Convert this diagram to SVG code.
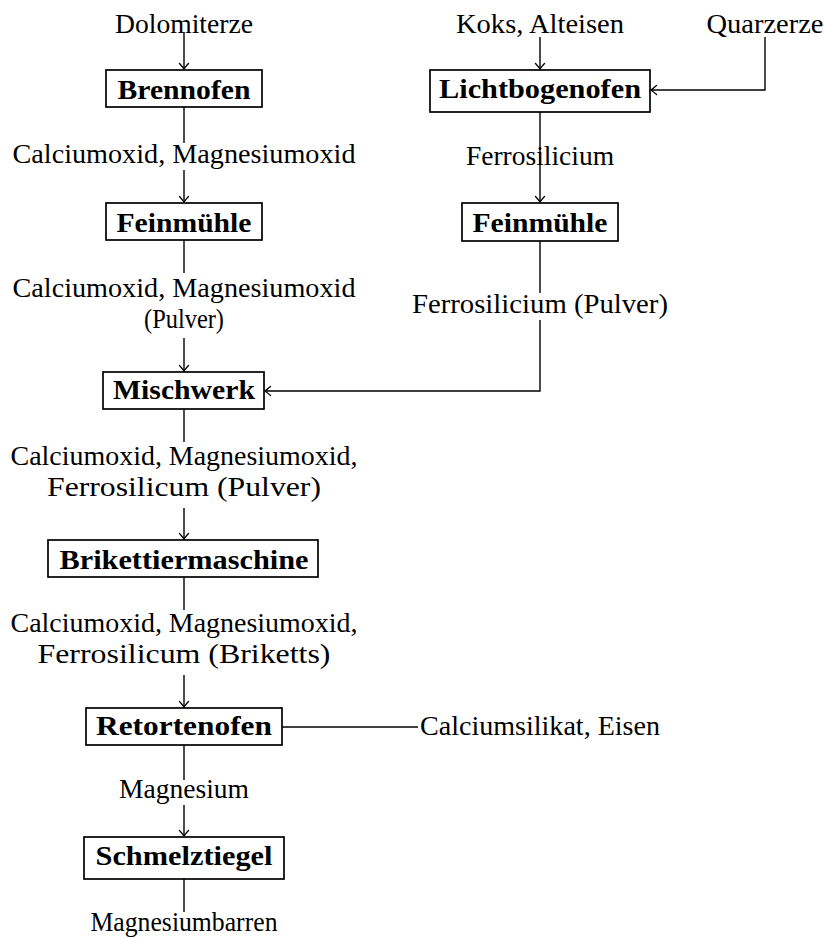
<svg xmlns="http://www.w3.org/2000/svg" width="824" height="938" viewBox="0 0 824 938">
<defs>
<style>
text{font-family:"Liberation Serif","Times New Roman",serif;font-size:27px;fill:#000;text-anchor:middle}
.b{font-weight:bold}
rect{fill:#fff;stroke:#000;stroke-width:1.7}
.c line,.c path{stroke:#000;stroke-width:1.4;fill:none}
</style>
<marker id="a" markerUnits="userSpaceOnUse" viewBox="-7 -6 8 12" refX="0" refY="0" markerWidth="8" markerHeight="12" orient="auto">
<path d="M-5.5 -4.5 Q-1.5 -1 0 0 Q-1.5 1 -5.5 4.5" fill="none" stroke="#000" stroke-width="1.3" stroke-linecap="round"/>
</marker>
</defs>
<g class="c" id="connectors">
<line x1="184" y1="32" x2="184" y2="69" marker-end="url(#a)"/>
<line x1="184" y1="107" x2="184" y2="143"/>
<line x1="184" y1="170" x2="184" y2="202" marker-end="url(#a)"/>
<line x1="184" y1="240" x2="184" y2="273"/>
<line x1="184" y1="338" x2="184" y2="371" marker-end="url(#a)"/>
<line x1="184" y1="409" x2="184" y2="442"/>
<line x1="184" y1="508" x2="184" y2="539" marker-end="url(#a)"/>
<line x1="184" y1="577" x2="184" y2="610"/>
<line x1="184" y1="675" x2="184" y2="707" marker-end="url(#a)"/>
<line x1="184" y1="745" x2="184" y2="780"/>
<line x1="184" y1="805" x2="184" y2="836" marker-end="url(#a)"/>
<line x1="184" y1="879" x2="184" y2="912"/>
<line x1="282" y1="727" x2="418" y2="727"/>
<line x1="540" y1="37" x2="540" y2="69" marker-end="url(#a)"/>
<path d="M765 37 V90 H651" marker-end="url(#a)"/>
<line x1="540" y1="112" x2="540" y2="202" marker-end="url(#a)"/>
<line x1="540" y1="241" x2="540" y2="293"/>
<path d="M540 320 V391 H265" marker-end="url(#a)"/>
</g>
<g id="in-dolomit"><text x="184" y="33" textLength="138" lengthAdjust="spacingAndGlyphs">Dolomiterze</text></g>
<g id="brennofen"><rect x="106" y="70" width="156" height="37"/><text class="b" x="184" y="99" textLength="133" lengthAdjust="spacingAndGlyphs">Brennofen</text></g>
<g id="l1"><text x="184" y="163" textLength="343" lengthAdjust="spacingAndGlyphs">Calciumoxid, Magnesiumoxid</text></g>
<g id="feinmuehle1"><rect x="106" y="203" width="156" height="37"/><text class="b" x="184" y="232" textLength="135" lengthAdjust="spacingAndGlyphs">Feinmühle</text></g>
<g id="l2"><text x="184" y="297" textLength="343" lengthAdjust="spacingAndGlyphs">Calciumoxid, Magnesiumoxid</text><text x="184" y="328" textLength="80" lengthAdjust="spacingAndGlyphs">(Pulver)</text></g>
<g id="mischwerk"><rect x="103" y="372" width="161" height="37"/><text class="b" x="184" y="399" textLength="142" lengthAdjust="spacingAndGlyphs">Mischwerk</text></g>
<g id="l3"><text x="184" y="465" textLength="347" lengthAdjust="spacingAndGlyphs">Calciumoxid, Magnesiumoxid,</text><text x="184" y="496" textLength="274" lengthAdjust="spacingAndGlyphs">Ferrosilicum (Pulver)</text></g>
<g id="brikettiermaschine"><rect x="48" y="540" width="270" height="37"/><text class="b" x="184" y="569" textLength="249" lengthAdjust="spacingAndGlyphs">Brikettiermaschine</text></g>
<g id="l4"><text x="184" y="632" textLength="347" lengthAdjust="spacingAndGlyphs">Calciumoxid, Magnesiumoxid,</text><text x="184" y="663" textLength="293" lengthAdjust="spacingAndGlyphs">Ferrosilicum (Briketts)</text></g>
<g id="retortenofen"><rect x="86" y="708" width="196" height="37"/><text class="b" x="184" y="735" textLength="176" lengthAdjust="spacingAndGlyphs">Retortenofen</text></g>
<g id="out-calciumsilikat"><text x="540" y="735" textLength="240" lengthAdjust="spacingAndGlyphs">Calciumsilikat, Eisen</text></g>
<g id="l5"><text x="184" y="798" textLength="130" lengthAdjust="spacingAndGlyphs">Magnesium</text></g>
<g id="schmelztiegel"><rect x="84" y="837" width="200" height="42"/><text class="b" x="184" y="865" textLength="177" lengthAdjust="spacingAndGlyphs">Schmelztiegel</text></g>
<g id="out-barren"><text x="184" y="931" textLength="187" lengthAdjust="spacingAndGlyphs">Magnesiumbarren</text></g>
<g id="in-koks"><text x="540" y="33" textLength="168" lengthAdjust="spacingAndGlyphs">Koks, Alteisen</text></g>
<g id="in-quarz"><text x="765" y="33" textLength="117" lengthAdjust="spacingAndGlyphs">Quarzerze</text></g>
<g id="lichtbogenofen"><rect x="430" y="70" width="220" height="42"/><text class="b" x="540" y="98" textLength="202" lengthAdjust="spacingAndGlyphs">Lichtbogenofen</text></g>
<g id="r1"><text x="540" y="165" textLength="148" lengthAdjust="spacingAndGlyphs">Ferrosilicium</text></g>
<g id="feinmuehle2"><rect x="462" y="203" width="156" height="38"/><text class="b" x="540" y="232" textLength="135" lengthAdjust="spacingAndGlyphs">Feinmühle</text></g>
<g id="r2"><text x="540" y="313" textLength="256" lengthAdjust="spacingAndGlyphs">Ferrosilicium (Pulver)</text></g>
</svg>
